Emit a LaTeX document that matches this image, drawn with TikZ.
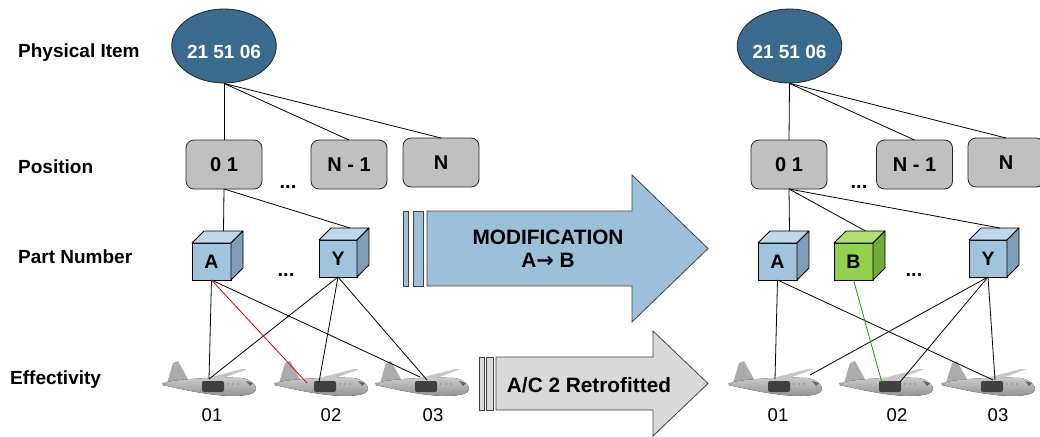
\documentclass[tikz,border=0pt]{standalone}
\usepackage{fontspec}
\setmainfont{Liberation Sans}
\newfontfamily\symbolfont{DejaVu Sans}
\usetikzlibrary{calc,shapes.geometric}

\definecolor{itemblue}{RGB}{59,106,143}
\definecolor{posgray}{RGB}{192,192,192}
\definecolor{cubefront}{RGB}{160,196,222}
\definecolor{cubetop}{RGB}{190,215,235}
\definecolor{cubeside}{RGB}{128,158,184}
\definecolor{greenfront}{RGB}{146,208,80}
\definecolor{greentop}{RGB}{174,224,114}
\definecolor{greenside}{RGB}{112,170,56}
\definecolor{arrowblue}{RGB}{157,192,218}
\definecolor{arrowgray}{RGB}{217,217,217}
\definecolor{linkred}{RGB}{210,0,0}
\definecolor{linkgreen}{RGB}{0,165,0}

\tikzset{
  levelname/.style={anchor=base west, inner sep=0, font=\fontsize{19}{19}\bfseries\selectfont},
  itemnode/.style={ellipse, draw=black!85, line width=0.8, fill=itemblue, minimum width=96, minimum height=74,
    inner sep=0, text=white, text height=25pt, text depth=0pt, font=\fontsize{19}{19}\bfseries\selectfont},
  posbox/.style={rectangle, rounded corners=8, draw=black!85, line width=0.8, fill=posgray,
    minimum width=76, minimum height=49, outer sep=0, font=\fontsize{20}{20}\bfseries\selectfont},
  cubefrontface/.style={rectangle, draw=black, line width=0.8, fill=#1, minimum width=39, minimum height=37,
    outer sep=0, inner sep=0, font=\fontsize{19.5}{19.5}\bfseries\selectfont},
  ellipsis/.style={anchor=base, inner sep=0, font=\fontsize{20}{20}\bfseries\selectfont},
  acnum/.style={anchor=base, inner sep=0, font=\fontsize{18.5}{18.5}\selectfont},
  link/.style={draw=black, line width=0.8},
  bigarrow/.style={draw=black!75, line width=0.8, fill=#1},
  arrowtext/.style={align=center, inner sep=0, font=\fontsize{20.8}{23}\bfseries\selectfont},
  plane/.pic={
    % tailplane
    \fill[gray!70] (-47,3) -- (-32,0) -- (-22,3) -- (-30,6.5) -- (-46,6) -- cycle;
    % fin
    \fill[gray!65] (-42,3) -- (-36,-17) -- (-31,-19) -- (-20,1) -- cycle;
    % fuselage
    \fill[top color=gray!40, bottom color=gray!85]
      (-42,2) .. controls (-20,-2) and (10,-3) .. (32,-2)
      .. controls (42,-1) and (48,6) .. (47,10)
      .. controls (46,14) and (36,16) .. (25,16)
      .. controls (5,16) and (-20,11) .. (-42,6) -- cycle;
    % wing
    \fill[gray!45] (-6,-1) -- (33,-11) -- (39,-11) -- (6,1) -- cycle;
    % landing gear sponson
    \fill[black!75, rounded corners=2] (-7,1) rectangle (15,12);
    \fill[black!60] (37,1) -- (44,3) -- (41,6) -- cycle;
    % windows
    \foreach \wx in {19,24,29} \fill[red!30!gray!70] (\wx,4) circle (1.3);
  }
}

\begin{document}
\begin{tikzpicture}[x=1pt, y=-1pt]
\useasboundingbox (0,0) rectangle (1040,436);

% ---------- level names ----------
\node[levelname] (lvItem) at (18,57) {Physical Item};
\node[levelname] (lvPos) at (18,173) {Position};
\node[levelname] (lvPart) at (18,263) {Part Number};
\node[levelname] (lvEff) at (10,384) {Effectivity};

% ---------- before the modification ----------
\node[itemnode] (itemL) at (224,46) {21 51 06};
\node[posbox] (posL1) at (224,164.5) {0 1};
\node[posbox] (posLN1) at (349,164.5) {N - 1};
\node[posbox] (posLN) at (441,162.5) {N};
\node[ellipsis] (dotsPosL) at (288,188) {...};

\node[cubefrontface=cubefront] (cubeLA) at (211.5,261.5) {A};
\node[cubefrontface=cubefront, minimum width=38] (cubeLY) at (338,258.5) {Y};
\node[ellipsis] (dotsCubeL) at (286,276) {...};

\pic (acL1) at (209,380) {plane};
\pic (acL2) at (321,380) {plane};
\pic (acL3) at (422,380) {plane};
\coordinate (gearL1) at (209,379);
\coordinate (gearL2) at (321,382);
\coordinate (gearL3) at (422,380);
\node[acnum] (numL1) at (212,421) {01};
\node[acnum] (numL2) at (331,421) {02};
\node[acnum] (numL3) at (433,421) {03};

% ---------- after the modification ----------
\node[itemnode] (itemR) at (789.5,46) {21 51 06};
\node[posbox] (posR1) at (789,164.5) {0 1};
\node[posbox] (posRN1) at (914.5,164.5) {N - 1};
\node[posbox] (posRN) at (1006,162.5) {N};
\node[ellipsis] (dotsPosR) at (859,188) {...};

\node[cubefrontface=cubefront] (cubeRA) at (777.5,261.5) {A};
\node[cubefrontface=greenfront] (cubeRB) at (853.5,261.5) {B};
\node[cubefrontface=cubefront, minimum width=38] (cubeRY) at (988,258.5) {Y};
\node[ellipsis] (dotsCubeR) at (914,276) {...};

\pic (acR1) at (775,380) {plane};
\pic (acR2) at (886,380) {plane};
\pic (acR3) at (988,380) {plane};
\coordinate (gearR1) at (775,379);
\coordinate (gearR2) at (886,382);
\coordinate (gearR3) at (988,380);
\node[acnum] (numR1) at (778,421) {01};
\node[acnum] (numR2) at (897,421) {02};
\node[acnum] (numR3) at (998,421) {03};

% ---------- cube top and side faces ----------
\foreach \c/\t/\s in {cubeLA/cubetop/cubeside, cubeLY/cubetop/cubeside,
                      cubeRA/cubetop/cubeside, cubeRB/greentop/greenside, cubeRY/cubetop/cubeside} {
  \filldraw[fill=\t, draw=black, line width=0.8, line join=round]
    (\c.north west) -- ++(12,-12) -- ($(\c.north east)+(12,-12)$) -- (\c.north east) -- cycle;
  \filldraw[fill=\s, draw=black, line width=0.8, line join=round]
    (\c.north east) -- ++(12,-12) -- ($(\c.south east)+(12,-12)$) -- (\c.south east) -- cycle;
  \coordinate (\c-top) at ($(\c.north)+(12,-12)$);
}

% ---------- connectors, before ----------
\draw[link] (itemL.south) -- (posL1.north);
\draw[link] (itemL.south) -- (posLN1.north);
\draw[link] (itemL.south) -- (posLN.north);
\draw[link] (posL1.south) -- (cubeLA-top);
\draw[link] (posL1.south) -- (cubeLY-top);
\draw[link] (cubeLA.south) -- (gearL1);
\draw[link] (cubeLA.south) -- ($(gearL3)+(-2,-3)$);
\draw[link] (cubeLY.south) -- (gearL1);
\draw[link] (cubeLY.south) -- ($(gearL2)+(-2,0)$);
\draw[link] (cubeLY.south) -- ($(gearL3)+(5,0)$);
\draw[link, draw=linkred] (cubeLA.south) -- ($(gearL2)+(-14,1)$);

% ---------- connectors, after ----------
\draw[link] (itemR.south) -- (posR1.north);
\draw[link] (itemR.south) -- (posRN1.north);
\draw[link] (itemR.south) -- (posRN.north);
\draw[link] (posR1.south) -- (cubeRA-top);
\draw[link] (posR1.south) -- (cubeRB-top);
\draw[link] (posR1.south) -- (cubeRY-top);
\draw[link] (cubeRA.south) -- (gearR1);
\draw[link] (cubeRA.south) -- ($(gearR3)+(5,0)$);
\draw[link] (cubeRY.south) -- ($(gearR1)+(35,-4)$);
\draw[link] (cubeRY.south) -- ($(gearR2)+(14,0)$);
\draw[link] (cubeRY.south) -- ($(gearR3)+(7,0)$);
\draw[link, draw=linkgreen] (cubeRB.south) -- ($(gearR2)+(-4,1)$);

% ---------- process arrows ----------
\draw[bigarrow=arrowblue] (403,211) rectangle (408,286);
\draw[bigarrow=arrowblue] (413,211) rectangle (423,286);
\draw[bigarrow=arrowblue, line join=miter]
  (427,211) -- (632,211) -- (632,175) -- (708,248.5) -- (632,322) -- (632,286) -- (427,286) -- cycle;
\node[arrowtext] (modText) at (548,248.5) {MODIFICATION\\A{\symbolfont\bfseries →} B};

\draw[bigarrow=arrowgray] (479,357) rectangle (484,410);
\draw[bigarrow=arrowgray] (486,357) rectangle (493,410);
\draw[bigarrow=arrowgray, line join=miter]
  (496,357) -- (653,357) -- (653,331) -- (708,383.5) -- (653,436) -- (653,410) -- (496,410) -- cycle;
\node[arrowtext] (retroText) at (589,385) {A/C 2 Retrofitted};
\end{tikzpicture}
\end{document}
